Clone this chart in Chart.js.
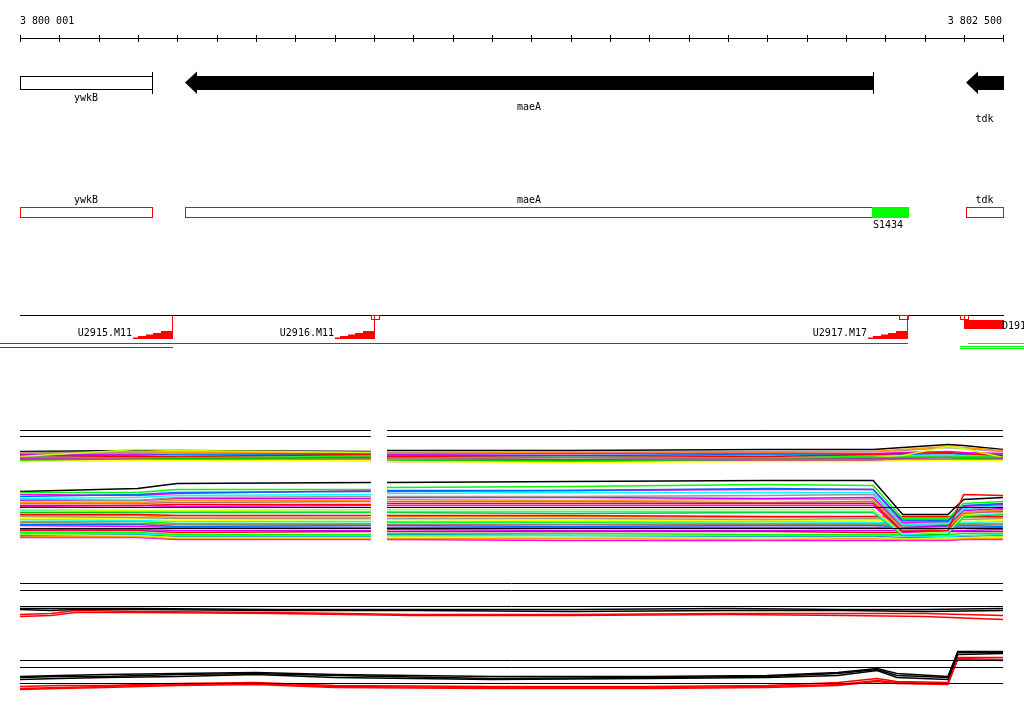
<!DOCTYPE html>
<html><head><meta charset="utf-8">
<script src="https://cdn.jsdelivr.net/npm/chart.js@4"></script>
<style>html,body{margin:0;padding:0;background:#fff;overflow:hidden}#wrap{width:1024px;height:714px}canvas{display:block}</style>
</head><body><div id="wrap"><canvas id="c" width="1024" height="714"></canvas></div>
<script>
// ---------- data ----------
const REGION_START = 3800001, REGION_END = 3802500, RULER_STEP = 100;
const rulerLabels = ['3 800 001', '3 802 500'];

const geneNames   = ['ywkB', 'maeA', 'tdk'];
const geneStarts  = [3800001, 3800420, 3802406];
const geneEnds    = [3800337, 3802169, 3802500];
const geneStrands = ['+', '-', '-'];

const segName = 'S1434', segStart = 3802167, segEnd = 3802258;

const tuNames = ['U2915.M11', 'U2916.M11', 'U2917.M17'];
const tuEnds  = [3800387, 3800901, 3802256];
const tuRampLen = 100;
const termStarts = [3800893, 3802236, 3802391, 3802401];
const termEnds   = [3800914, 3802258, 3802401, 3802411];
const dName = 'D191', dStart = 3802401, dEnd = 3802500;
const redSpans   = [[3799951, 3802256], [3799951, 3800387]];
const greenSpans = [[3802411, 3802553], [3802391, 3802553], [3802391, 3802553]];

// expression profiles (signal level), sampled at these positions
const exprXLeft  = [3800001, 3800300, 3800400, 3800893];
const exprGapX   = 3800913;
const exprXRight = [3800934, 3801400, 3801900, 3802170, 3802245, 3802360, 3802400, 3802500];
const exprRefLevels = [115, 109, 38, 17];

const exprTopSeries = [
 [94,95,95,94, 95,95,96,96,98,101,100,96],
 [93,93,93,93, 93,93,94,94,95,98,97,94],
 [92,92,93,93, 92,93,93,94,96,99,98,95],
 [91,91,91,92, 91,92,92,92,93,94,93,92],
 [90,90,91,91, 90,90,91,91,91,92,91,91],
 [89,89,90,90, 89,89,90,90,90,90,90,90],
 [88,88,88,89, 88,88,88,89,89,89,89,89],
 [90,89,89,91, 89,90,89,91,92,93,92,90],
 [89,96,95,93, 86,86,87,88,90,99,97,88],
 [87,87,87,88, 87,86,87,87,87,88,87,87],
 [88,87,88,87, 87,88,87,88,88,88,88,88],
 [86,86,86,85, 84,84,85,85,86,86,86,86],
 [85,86,87,86, 85,85,86,86,86,86,87,86],
 [84,85,85,85, 84,83,84,84,85,85,85,85]
];
const exprTopColors = ['#000000','#999999','#ff9900','#ff00ff','#0066ff','#00ffff','#00ff00','#ff0000','#ccff00','#cc00ff','#b07070','#ff00ff','#00cc00','#ffff00'];

const exprLowSeries = [
 [40,40,41,41, 42,42,42,42, 14,15,51,50],
 [53,53,56,56, 58,59,61,60, 27,27,42,44],
 [49,51,53,54, 55,55,57,56, 25,25,40,42],
 [51,50,52,55, 54,55,56,56, 23,24,39,41],
 [47,48,50,51, 52,53,53,53, 21,22,37,40],
 [46,45,48,49, 49,49,50,51, 19,22,36,39],
 [45,45,47,47, 48,48,47,48, 18,20,35,37],
 [43,43,45,45, 46,45,46,46, 16,18,33,36],
 [42,42,43,44, 44,44,43,44, 15,17,32,35],
 [39,40,39,40, 40,40,40,40, 13,15,33,34],
 [36,35,35,36, 36,36,36,36, 12,14,31,33],
 [35,34,34,34, 34,34,34,34, 11,13,30,32],
 [33,33,33,33, 33,32,33,33, 10,11,29,31],
 [31,31,30,30, 30,30,29,29, 29,29,29,29],
 [30,30,28,28, 29,29,28,29, 28,28,28,28],
 [29,28,27,27, 27,27,26,27, 26,26,26,27],
 [27,27,25,26, 26,25,25,25, 24,24,24,25],
 [26,25,24,24, 24,24,24,23, 23,23,23,24],
 [24,24,22,22, 23,23,22,22, 22,21,22,22],
 [23,22,21,21, 21,21,21,21, 20,20,21,21],
 [21,21,19,20, 20,19,20,20, 19,19,20,19],
 [20,19,18,18, 18,18,18,18, 18,18,18,18],
 [16,16,15,15, 16,15,15,15, 15,15,15,16],
 [15,15,13,14, 14,14,14,13, 13,14,14,14],
 [13,13,11,11, 12,12,11,11, 11,11,12,12],
 [12,12,10,10, 10,10,10,10, 10,9,10,11],
 [11,10,8,8, 9,8,8,8, 7,7,8,9],
 [10,11,9,9, 11,10,9,9, 8,9,9,10],
 [9,9,7,7, 7,7,6,7, 6,6,7,7],
 [8,8,6,6, 6,5,5,5, 5,5,6,6],
 [54,57,62,63, 63,64,65,65, 31,31,46,48]
];
const exprLowColors = ['#ff0000','#00ff00','#0066ff','#ff00ff','#00ffff','#999999','#cc00ff','#ff9900','#b07070','#ff00ff','#ccff00','#00ffff','#00cc00',
 '#ff0000','#ff9900','#999999','#ffff00','#00ffff','#00ff00','#b07070','#0066ff','#ff00ff','#cc00ff','#ff0000','#00ff00','#00ffff','#ccff00','#0066ff','#ff9900','#ff00ff','#000000'];

// lower profile tracks
const trackAX = [3800001, 3800080, 3800140, 3800300, 3800650, 3801000, 3801400, 3801800, 3802100, 3802300, 3802500];
const trackARefLevels = [37, 30, 14];
const trackASeries = [
 [12,12,12,12,11,11,11,12,11,11,12],
 [11,10,11,11,10,10,9,10,10,9,10],
 [6,7,10,9,8,6,6,7,7,7,5],
 [4,5,8,8,7,5,5,6,5,4,1]
];
const trackAColors = ['#000000','#000000','#ff0000','#ff0000'];

const trackBX = [3800001, 3800100, 3800220, 3800400, 3800600, 3800800, 3801200, 3801600, 3801900, 3802080, 3802180, 3802230, 3802360, 3802385, 3802500];
const trackBRefLevels = [40, 33, 17];
const trackBSeries = [
 [23,24,24,26,27,25,22,23,24,27,31,25,23,48,48],
 [21,22,23,24,26,23,21,22,23,25,30,23,21,46,47],
 [24,25,26,27,28,26,24,24,25,28,32,27,24,49,49],
 [14,15,15,17,18,15,14,14,15,18,22,19,18,43,43],
 [12,13,14,16,17,14,13,13,14,16,20,18,17,41,40],
 [11,12,13,15,16,13,12,12,13,15,19,17,16,42,41]
];
const trackBColors = ['#000000','#000000','#000000','#ff0000','#ff0000','#ff0000'];

// ---------- build datasets ----------
const datasets = [];
function exprPoints(vals){
  const pts = [];
  exprXLeft.forEach((x,i)=>pts.push({x, y: vals[i]}));
  pts.push({x: exprGapX, y: null});
  exprXRight.forEach((x,i)=>pts.push({x, y: vals[exprXLeft.length + i]}));
  return pts;
}
function line(data, color, axis, width){ return {data, borderColor: color, yAxisID: axis, borderWidth: width || 1, pointRadius: 0, tension: 0, spanGaps: false, fill: false}; }
exprRefLevels.forEach(v=>datasets.push(line(exprPoints(new Array(12).fill(v)), '#000000', 'yE')));
exprTopSeries.slice().reverse().forEach((s,i)=>datasets.push(line(exprPoints(s), exprTopColors[exprTopSeries.length-1-i], 'yE', 1.5)));
exprLowSeries.forEach((s,i)=>datasets.push(line(exprPoints(s), exprLowColors[i], 'yE', 1.5)));
trackARefLevels.forEach(v=>datasets.push(line([{x:REGION_START,y:v},{x:REGION_END,y:v}], '#000000', 'yA')));
trackASeries.forEach((s,i)=>datasets.push(line(s.map((y,j)=>({x:trackAX[j], y})), trackAColors[i], 'yA', 1.5)));
trackBRefLevels.forEach(v=>datasets.push(line([{x:REGION_START,y:v},{x:REGION_END,y:v}], '#000000', 'yB')));
trackBSeries.forEach((s,i)=>datasets.push(line(s.map((y,j)=>({x:trackBX[j], y})), trackBColors[i], 'yB', 1.5)));

// ---------- feature drawing via the x scale ----------
const FONT = '10px "DejaVu Sans Mono", monospace';
const featurePlugin = {
  id: 'features',
  beforeDatasetsDraw(chart){
    const ctx = chart.ctx, xs = chart.scales.x;
    const px = v => Math.round(xs.getPixelForValue(v));
    ctx.save();
    ctx.font = FONT; ctx.textBaseline = 'alphabetic';
    ctx.lineWidth = 1;
    // ruler
    const rs = px(REGION_START), re = px(REGION_END);
    ctx.strokeStyle = '#000'; ctx.fillStyle = '#000';
    ctx.beginPath();
    ctx.moveTo(rs, 38.5); ctx.lineTo(re + 1, 38.5);
    for (let p = REGION_START; p <= REGION_END + 1; p += RULER_STEP){
      const x = px(Math.min(p, REGION_END)) + 0.5;
      ctx.moveTo(x, 35); ctx.lineTo(x, 42);
    }
    ctx.stroke();
    ctx.textAlign = 'left'; ctx.fillText(rulerLabels[0], rs, 24);
    ctx.textAlign = 'right'; ctx.fillText(rulerLabels[1], re - 1, 24);

    // gene track (strand arrows)
    const geneLabelRows = [101, 110, 122];
    geneNames.forEach((name, i)=>{
      const a = px(geneStarts[i]), b = px(geneEnds[i]);
      ctx.fillStyle = '#000'; ctx.strokeStyle = '#000';
      if (geneStrands[i] === '+'){
        ctx.strokeRect(a + 0.5, 76.5, b - a, 13);
        ctx.beginPath(); ctx.moveTo(b + 0.5, 72); ctx.lineTo(b + 0.5, 94); ctx.stroke();
      } else {
        const h = a + 12;
        ctx.beginPath();
        ctx.moveTo(a, 82.5); ctx.lineTo(h, 71.5); ctx.lineTo(h, 76); ctx.lineTo(b + 1, 76);
        ctx.lineTo(b + 1, 90); ctx.lineTo(h, 90); ctx.lineTo(h, 94); ctx.closePath(); ctx.fill();
        if (i === 1){ ctx.beginPath(); ctx.moveTo(b + 0.5, 72); ctx.lineTo(b + 0.5, 94); ctx.stroke(); }
      }
      ctx.textAlign = 'center';
      ctx.fillText(name, (a + b) / 2, geneLabelRows[i]);
    });

    // annotation track (red boxes)
    geneNames.forEach((name, i)=>{
      const a = px(geneStarts[i]), b = px(geneEnds[i]);
      ctx.strokeStyle = '#ff0000';
      ctx.strokeRect(a + 0.5, 207.5, b - a, 10);
      ctx.fillStyle = '#000'; ctx.textAlign = 'center';
      ctx.fillText(name, (a + b) / 2, 203);
    });
    { const a = px(segStart), b = px(segEnd);
      ctx.fillStyle = '#00ff00'; ctx.fillRect(a, 207, b - a + 1, 11);
      ctx.fillStyle = '#000'; ctx.textAlign = 'left'; ctx.fillText(segName, a + 1, 228); }

    // transcription units
    ctx.strokeStyle = '#000';
    ctx.beginPath(); ctx.moveTo(rs, 315.5); ctx.lineTo(re + 1, 315.5); ctx.stroke();
    const stepF = [0, 0.125, 0.333, 0.517, 0.725, 1], stepH = [1.5, 3, 4.5, 6, 8];
    tuNames.forEach((name, i)=>{
      const b = px(tuEnds[i]), a = px(tuEnds[i] - tuRampLen), w = b - a;
      ctx.fillStyle = '#ff0000';
      ctx.beginPath(); ctx.moveTo(a, 339);
      for (let k = 0; k < 5; k++){
        const x0 = a + Math.round(w * stepF[k]), x1 = a + Math.round(w * stepF[k+1]);
        ctx.lineTo(x0, 339 - stepH[k]); ctx.lineTo(x1, 339 - stepH[k]);
      }
      ctx.lineTo(b, 339); ctx.closePath(); ctx.fill();
      ctx.strokeStyle = '#ff0000';
      ctx.beginPath(); ctx.moveTo(b + 0.5, 315); ctx.lineTo(b + 0.5, 339); ctx.stroke();
      ctx.fillStyle = '#000'; ctx.textAlign = 'right';
      ctx.fillText(name, a - 1, 336);
    });
    ctx.strokeStyle = '#ff0000';
    termStarts.forEach((s, i)=>{
      const a = px(s), b = px(termEnds[i]);
      ctx.strokeRect(a + 0.5, 315.5, b - a, 4);
    });
    { const a = px(dStart), b = px(dEnd);
      ctx.fillStyle = '#ff0000'; ctx.fillRect(a, 320, b - a + 1, 9);
      ctx.fillStyle = '#000'; ctx.textAlign = 'left'; ctx.fillText(dName, b - 1, 329); }
    const redRows = [343, 347];
    ctx.fillStyle = '#ff0000';
    redSpans.forEach((s, i)=>{ ctx.fillRect(px(s[0]), redRows[i], px(s[1]) + 1 - px(s[0]), 1); });
    ctx.fillStyle = '#00ff00';
    const greenRows = [343, 346, 348];
    greenSpans.forEach((s, i)=>{ ctx.fillRect(px(s[0]), greenRows[i], px(s[1]) + 1 - px(s[0]), 1); });
    ctx.restore();
  }
};

const XMIN = 3799950.156, XMAX = 3802553.38;
new Chart(document.getElementById('c'), {
  type: 'line',
  data: { datasets },
  plugins: [featurePlugin],
  options: {
    responsive: false, animation: false, events: [], devicePixelRatio: 1,
    layout: { padding: 0 },
    plugins: { legend: { display: false }, tooltip: { enabled: false } },
    scales: {
      x:  { type: 'linear', min: XMIN, max: XMAX, display: false },
      yE: { type: 'linear', min: -168.5, max: 545.5, display: false },
      yA: { type: 'linear', min: -93.5, max: 620.5, display: false },
      yB: { type: 'linear', min: -13.5, max: 700.5, display: false }
    }
  }
});
</script></body></html>
